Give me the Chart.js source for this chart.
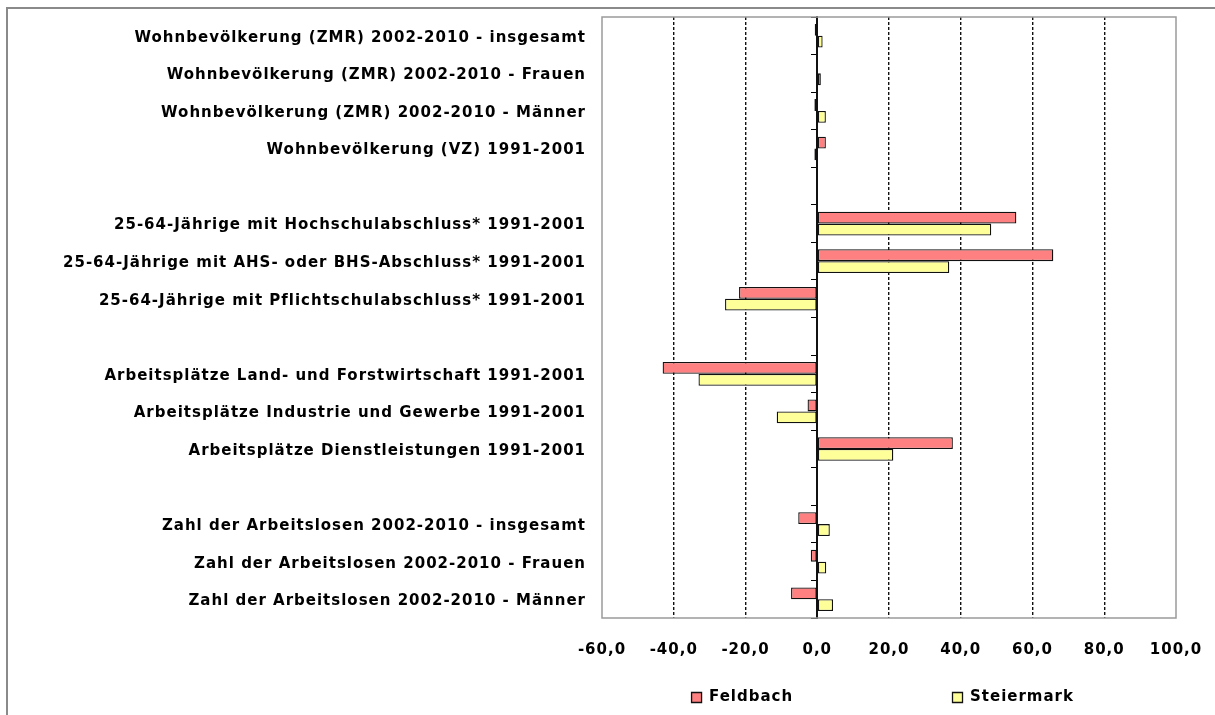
<!DOCTYPE html>
<html>
<head>
<meta charset="utf-8">
<title>Feldbach / Steiermark</title>
<script src="https://cdn.jsdelivr.net/npm/chart.js@4.4.1/dist/chart.umd.min.js"></script>
<style>
  html, body { margin: 0; padding: 0; background: #fff; overflow: hidden; }
  #frame {
    position: absolute; left: 6px; top: 7px; width: 1300px; height: 800px;
    border-left: 2px solid #8a8a8a; border-top: 2px solid #8a8a8a;
  }
  #wrap { position: absolute; left: 0; top: 0; width: 1215px; height: 715px; }
</style>
</head>
<body>
<div id="frame"></div>
<div id="wrap"><canvas id="chart" width="1215" height="715"></canvas></div>
<script>
// rows from top to bottom, '' = empty spacer row
const categories = [
  'Wohnbevölkerung (ZMR) 2002-2010 - insgesamt',
  'Wohnbevölkerung (ZMR) 2002-2010 - Frauen',
  'Wohnbevölkerung (ZMR) 2002-2010 - Männer',
  'Wohnbevölkerung (VZ) 1991-2001',
  '',
  '25-64-Jährige mit Hochschulabschluss* 1991-2001',
  '25-64-Jährige mit AHS- oder BHS-Abschluss* 1991-2001',
  '25-64-Jährige mit Pflichtschulabschluss* 1991-2001',
  '',
  'Arbeitsplätze Land- und Forstwirtschaft 1991-2001',
  'Arbeitsplätze Industrie und Gewerbe 1991-2001',
  'Arbeitsplätze Dienstleistungen 1991-2001',
  '',
  'Zahl der Arbeitslosen 2002-2010 - insgesamt',
  'Zahl der Arbeitslosen 2002-2010 - Frauen',
  'Zahl der Arbeitslosen 2002-2010 - Männer'
];

const feldbach   = [-0.7, -0.2, -0.8, 2.4, null, 55.5, 65.8, -21.8, null, -43.1, -2.7, 37.8, null, -5.3, -1.8, -7.3];
const steiermark = [ 1.5,  1.0,  2.4, -0.8, null, 48.5, 36.8, -25.7, null, -33.1, -11.3, 21.2, null, 3.5, 2.5, 4.4];

const seriesNames = ['Feldbach', 'Steiermark'];
const xTickValues = [-60, -40, -20, 0, 20, 40, 60, 80, 100];

const labelFont = { family: 'DejaVu Sans', size: 15, weight: 'bold' };
const clear = 'rgba(0,0,0,0)';
Chart.defaults.color = '#000';
Chart.defaults.font = labelFont;

// the original text is a bit spread out
const letterSpacing = {
  id: 'letterSpacing',
  beforeUpdate(chart) { chart.ctx.letterSpacing = '1px'; },
  beforeDraw(chart) { chart.ctx.letterSpacing = '1px'; }
};

// grey border round the plot area
const plotFrame = {
  id: 'plotFrame',
  beforeDatasetsDraw(chart) {
    const { ctx, chartArea: a } = chart;
    ctx.save();
    ctx.strokeStyle = '#9a9a9a';
    ctx.lineWidth = 1.5;
    ctx.strokeRect(a.left, a.top, a.width, a.height);
    ctx.restore();
  }
};

const ctx = document.getElementById('chart').getContext('2d');
new Chart(ctx, {
  type: 'bar',
  data: {
    labels: categories,
    datasets: [{
      label: seriesNames[0],
      data: feldbach,
      backgroundColor: '#ff8080',
      borderColor: '#111',
      borderWidth: 1.3,
      borderSkipped: false
    }, {
      label: seriesNames[1],
      data: steiermark,
      backgroundColor: '#ffff99',
      borderColor: '#111',
      borderWidth: 1.3,
      borderSkipped: false
    }]
  },
  options: {
    indexAxis: 'y',
    responsive: false,
    animation: false,
    categoryPercentage: 0.63,
    barPercentage: 1.0,
    layout: { padding: { top: 17, right: 39, bottom: 0, left: 0 } },
    plugins: {
      tooltip: { enabled: false },
      legend: {
        position: 'bottom',
        fullSize: false,
        labels: {
          boxWidth: 10,
          boxHeight: 10,
          padding: 10,
          font: labelFont,
          generateLabels(chart) {
            const items = Chart.defaults.plugins.legend.labels.generateLabels(chart);
            // Excel spreads the two entries far apart
            items[0].text += '\u00a0'.repeat(24);
            items[1].text += '\u00a0'.repeat(2);
            return items;
          }
        }
      }
    },
    scales: {
      x: {
        min: -60,
        max: 100,
        afterBuildTicks(s) { s.ticks = xTickValues.map(v => ({ value: v })); },
        grid: {
          lineWidth: 1.4,
          // invisible tick marks only push the labels down
          drawTicks: true,
          tickLength: 23,
          tickColor: clear,
          color: c => (c.tick && [-60, 0, 100].includes(c.tick.value)) ? clear : '#111'
        },
        border: { display: false, dash: [3, 2] },
        ticks: {
          padding: 0,
          autoSkip: false,
          maxRotation: 0,
          font: labelFont,
          callback: v => v.toFixed(1).replace('.', ',')
        },
        afterFit(s) { s.height = 62; }
      },
      y: {
        grid: { display: false, drawTicks: true, tickLength: 16, tickColor: clear },
        border: { display: false },
        ticks: { padding: 0, labelOffset: 2, autoSkip: false, font: labelFont },
        afterFit(s) { s.width = 602; }
      },
      // vertical axis line at 0 with the small category ticks
      y2: {
        type: 'category',
        position: { x: 0 },
        offset: true,
        grid: { offset: true, drawOnChartArea: false, drawTicks: true, tickLength: 5, color: '#000', lineWidth: 1 },
        border: { color: '#111', width: 2 },
        ticks: { display: false },
        afterFit(s) { s.width = 0; }
      }
    }
  },
  plugins: [letterSpacing, plotFrame]
});
</script>
</body>
</html>
